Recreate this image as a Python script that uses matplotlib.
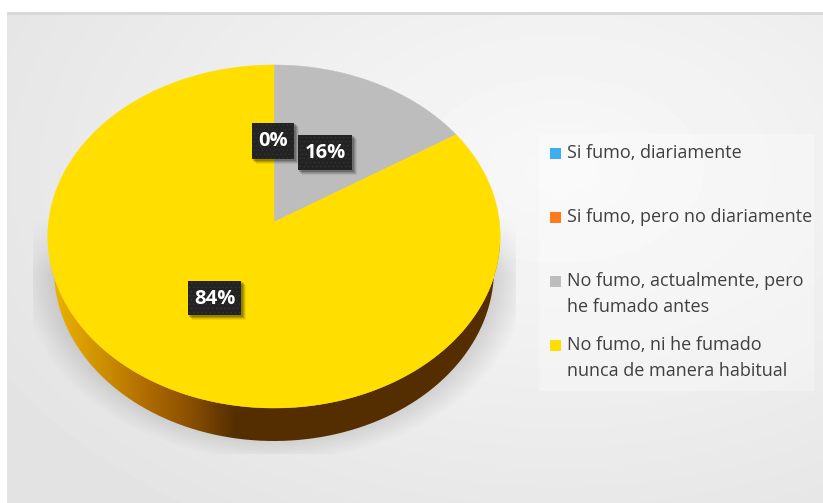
import numpy as np
import matplotlib
matplotlib.use("Agg")
import matplotlib.pyplot as plt
from matplotlib.colors import LinearSegmentedColormap
from matplotlib.path import Path
from matplotlib.patches import PathPatch, Rectangle

plt.rcParams['font.family'] = ['Open Sans', 'DejaVu Sans']
plt.rcParams['hatch.linewidth'] = 0.3

labels = ["Si fumo, diariamente", "Si fumo, pero no diariamente",
          "No fumo, actualmente, pero\nhe fumado antes",
          "No fumo, ni he fumado\nnunca de manera habitual"]
values = [0, 0, 16, 84]
colors = ["#3DAEEF", "#FF7A1A", "#BDBDBD", "#FFDE00"]
value_labels = ["0%", None, "16%", "84%"]
label_boxes = [(252, 123, 42, 36), None, (298, 135, 54, 35), (188, 281, 53, 34)]
legend_y = [153, 217, 281, 345]


# circle -> perspective ellipse, the centre of the pie sits above the ellipse centre
def project(theta):
    x = np.sin(theta)
    y = np.cos(theta)
    d = 1 + 0.0845 * y
    return 274 + 225.4 * x / d, 222 - 170.3 * y / d


fig = plt.figure(figsize=(8.23, 5.03), dpi=100, facecolor="white")
ax = fig.add_axes([0, 0, 1, 1])

# panel background
xx, yy = np.meshgrid(np.arange(7, 823), np.arange(12, 503))
d = np.sqrt(((xx - 560) / 620.0) ** 2 + ((yy - 170) / 400.0) ** 2)
shade = 0.972 - 0.075 * np.minimum(d, 1.1) ** 1.1
ax.imshow(shade, cmap="gray", vmin=0, vmax=1, extent=(7, 823, 503, 12), aspect="auto", zorder=0)
ax.add_patch(Rectangle((7, 12), 816, 2.5, facecolor="#D9D9D9", edgecolor="none", zorder=1))

# soft shadow under the pie
xs, ys = np.meshgrid(np.arange(33, 516), np.arange(215, 454))
r = np.sqrt(((xs - 274) / 238.0) ** 2 + ((ys - 268) / 180.0) ** 2)
a = np.clip((1.07 - r) / 0.14, 0, 1) * np.clip((ys - 215) / 60.0, 0, 1)
a = a * 0.19
rgba = np.zeros(xs.shape + (4,))
rgba[..., :3] = 0.3
rgba[..., 3] = a
ax.imshow(rgba, extent=(33, 516, 454, 215), aspect="auto", zorder=2)

# side of the pie
t = np.linspace(0, 2 * np.pi, 721)
ex, ey = project(t)
side_x = 274 + 220 * np.sin(t)
side_y = 269.5 - 171.5 * np.cos(t)
low = (t > np.pi / 2) & (t < 3 * np.pi / 2)
side_pts = np.column_stack([np.r_[ex[low], side_x[low][::-1]], np.r_[ey[low], side_y[low][::-1]]])
side_cmap = LinearSegmentedColormap.from_list("side", [
    (0.0, "#EDB400"), (0.12, "#CC8E00"), (0.22, "#AE6A00"), (0.31, "#8A5000"),
    (0.41, "#552E00"), (1.0, "#552E00")])
im = ax.imshow(np.linspace(0, 1, 256)[None, :], cmap=side_cmap, vmin=0, vmax=1,
               extent=(50, 500, 445, 240), aspect="auto", zorder=3)
clip = PathPatch(Path(side_pts), facecolor="none", edgecolor="none", transform=ax.transData)
ax.add_patch(clip)
im.set_clip_path(clip)

# top of the pie, clockwise from 12 o'clock
angles = np.r_[0, np.cumsum(values)] / np.sum(values) * 2 * np.pi
for i in range(len(values)):
    if values[i] == 0:
        continue
    th = np.linspace(angles[i], angles[i + 1], 400)
    px, py = project(th)
    ax.fill(np.r_[274, px], np.r_[222, py], color=colors[i], lw=0.3, zorder=4)

# data labels
for txt, box in zip(value_labels, label_boxes):
    if txt is None:
        continue
    x, y, w, h = box
    for k, al in zip([5, 4, 3, 2], [0.07, 0.10, 0.14, 0.18]):
        ax.add_patch(Rectangle((x + k - 1, y + k - 1), w + 1, h + 1, facecolor="black",
                               edgecolor="none", alpha=al, zorder=5))
    ax.add_patch(Rectangle((x, y), w, h, facecolor="#232323", edgecolor="#3A3A3A", hatch="....",
                           lw=0, zorder=6))
    ax.text(x + w / 2.0, y + h / 2.0 + 0.5, txt, color="white", fontsize=14.5, fontweight="bold",
            ha="center", va="center", zorder=7)

# legend
ax.add_patch(Rectangle((539, 134), 275, 257, facecolor="white", alpha=0.3, edgecolor="none", zorder=1))
for lab, col, y in zip(labels, colors, legend_y):
    ax.add_patch(Rectangle((550, y - 5.5), 11, 11, facecolor=col, edgecolor="none", zorder=4))
    lines = lab.split("\n")
    for n, line in enumerate(lines):
        ax.text(567, y + n * 25.5, line, color="#404040", fontsize=13, ha="left", va="center", zorder=4)

ax.set_xlim(0, 823)
ax.set_ylim(503, 0)
ax.axis("off")
fig.savefig("out.png", dpi=100)
